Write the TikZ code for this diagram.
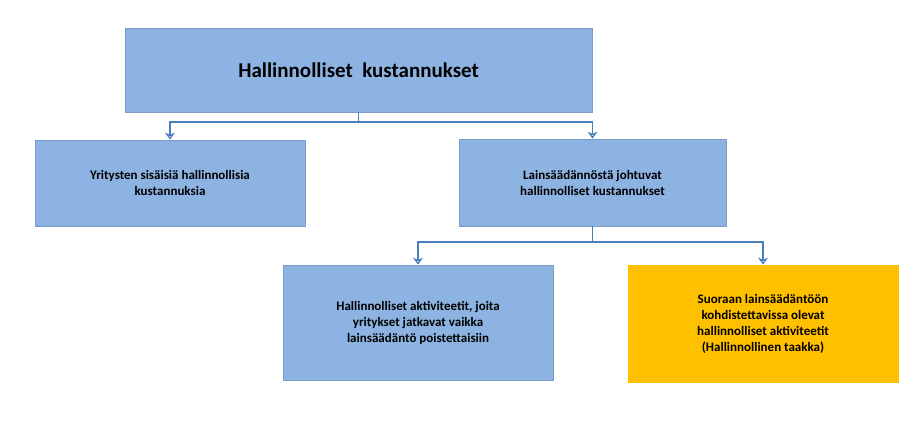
\documentclass[tikz,border=0pt]{standalone}
\usepackage{fontspec}
\setmainfont{Carlito}
\usetikzlibrary{arrows.meta}
\definecolor{bfill}{HTML}{8DB3E2}
\definecolor{bline}{HTML}{7A9CC6}
\definecolor{ofill}{HTML}{FFC000}
\definecolor{arr}{HTML}{4A7EBB}
\begin{document}
\begin{tikzpicture}[x=1pt,y=-1pt,
  box/.style={draw=bline,fill=bfill,line width=0.8pt,font=\bfseries\fontsize{13}{16}\selectfont,align=center,inner sep=0pt},
  conn/.style={draw=arr,line width=1.6pt},
  arrowc/.style={conn,-{Stealth[length=7pt,width=10pt,open]}}]
\useasboundingbox (0,0) rectangle (920,426);
\node[box,minimum width=467pt,minimum height=84pt,font=\bfseries\fontsize{21}{25}\selectfont] (top) at (358.5,70) {Hallinnolliset\ \ kustannukset};
\node[box,minimum width=270pt,minimum height=86pt] (l) at (170,183) {Yritysten sisäisiä hallinnollisia\\kustannuksia};
\node[box,minimum width=267pt,minimum height=87pt] (r) at (592.5,182.5) {Lainsäädännöstä johtuvat\\hallinnolliset kustannukset};
\node[box,minimum width=270pt,minimum height=115pt] (bl) at (418,322.5) {Hallinnolliset aktiviteetit, joita\\yritykset jatkavat vaikka\\lainsäädäntö poistettaisiin};
\node[box,fill=ofill,draw=ofill,minimum width=270pt,minimum height=117pt] (br) at (763,323.5) {Suoraan lainsäädäntöön\\kohdistettavissa olevat\\hallinnolliset aktiviteetit\\(Hallinnollinen taakka)};
\coordinate (j1) at (358.5,122);
\coordinate (j2) at (592.5,242);
\draw[conn] (top.south) -- (j1);
\draw[arrowc] (j1) -| (l.north);
\draw[arrowc] (j1) -| (r.north);
\draw[conn] (r.south) -- (j2);
\draw[arrowc] (j2) -| (bl.north);
\draw[arrowc] (j2) -| (br.north);
\end{tikzpicture}
\end{document}
